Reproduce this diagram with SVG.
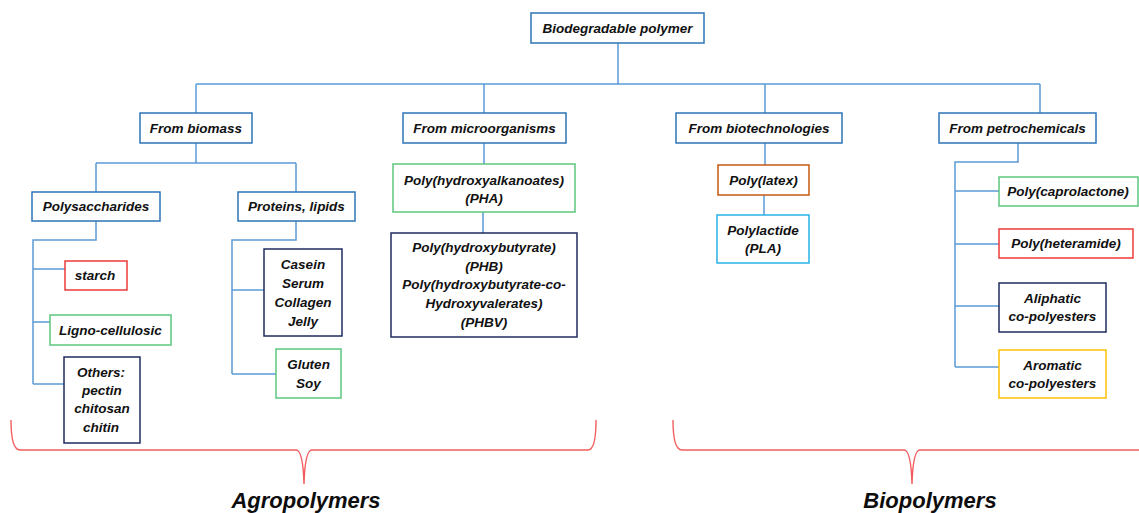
<svg xmlns="http://www.w3.org/2000/svg" width="1139" height="513" viewBox="0 0 1139 513">
  <style>
    .box { fill: #ffffff; stroke-width: 1.5; }
    .blue { stroke: #2E75B6; }
    .green { stroke: #5CC77E; }
    .red { stroke: #EE3B3B; }
    .navy { stroke: #1F2D5F; }
    .orange { stroke: #C55A11; }
    .cyan { stroke: #29B1E6; }
    .yellow { stroke: #FFC000; }
    .lbl { font-family: "Liberation Sans", Arial, sans-serif; font-size: 13.5px; font-weight: bold; font-style: italic; fill: #111111; text-anchor: middle; }
    .big { font-family: "Liberation Sans", Arial, sans-serif; font-size: 22px; font-weight: bold; font-style: italic; fill: #0d0d0d; text-anchor: middle; }
    .conn { fill: none; stroke: #5B9BD5; stroke-width: 1.5; }
    .brace { fill: none; stroke: #F25C5C; stroke-width: 1.4; }
  </style>
  <rect width="1139" height="513" fill="#ffffff"/>

  <g id="connectors">
    <!-- root to categories -->
    <path class="conn" d="M618,43 V84 M196,84 H1040 M196,84 V113 M484,84 V113 M765,84 V113 M1040,84 V113"/>
    <!-- biomass -->
    <path class="conn" d="M196,143 V163 M96,163 H296 M96,163 V192 M296,163 V192"/>
    <!-- polysaccharides -->
    <path class="conn" d="M96,221 V240 H33 V384 M33,269 H65 M33,322 H50 M33,384 H64"/>
    <!-- proteins, lipids -->
    <path class="conn" d="M296,221 V240 H232 V374 M232,290 H264 M232,374 H276"/>
    <!-- microorganisms -->
    <path class="conn" d="M484,143 V164 M483,212 V233"/>
    <!-- biotechnologies -->
    <path class="conn" d="M765,143 V165 M764,195 V215"/>
    <!-- petrochemicals -->
    <path class="conn" d="M1018,143 V162 H955 V367 M955,191 H999 M955,244 H999 M955,306 H999 M955,367 H999"/>
  </g>

  <g id="root">
    <rect class="box blue" x="531" y="13" width="173" height="30"/>
    <text class="lbl" x="617.5" y="32.5">Biodegradable polymer</text>
  </g>

  <g id="from-biomass">
    <rect class="box blue" x="140" y="113" width="112" height="30"/>
    <text class="lbl" x="196" y="132.5">From biomass</text>
  </g>
  <g id="from-microorganisms">
    <rect class="box blue" x="403" y="113" width="163" height="30"/>
    <text class="lbl" x="484.5" y="132.5">From microorganisms</text>
  </g>
  <g id="from-biotechnologies">
    <rect class="box blue" x="676" y="113" width="166" height="30"/>
    <text class="lbl" x="759" y="132.5">From biotechnologies</text>
  </g>
  <g id="from-petrochemicals">
    <rect class="box blue" x="939" y="113" width="157" height="30"/>
    <text class="lbl" x="1017.5" y="132.5">From petrochemicals</text>
  </g>

  <g id="polysaccharides">
    <rect class="box blue" x="32" y="192" width="128" height="29"/>
    <text class="lbl" x="96" y="211">Polysaccharides</text>
  </g>
  <g id="proteins-lipids">
    <rect class="box blue" x="238" y="192" width="117" height="29"/>
    <text class="lbl" x="296.5" y="211">Proteins, lipids</text>
  </g>

  <g id="starch">
    <rect class="box red" x="65" y="261" width="62" height="29"/>
    <text class="lbl" x="95" y="280">starch</text>
  </g>
  <g id="ligno-cellulosic">
    <rect class="box green" x="50" y="315" width="121" height="30"/>
    <text class="lbl" x="110.5" y="334.5">Ligno-cellulosic</text>
  </g>
  <g id="others">
    <rect class="box navy" x="64" y="357" width="76" height="86"/>
    <text class="lbl" x="101" y="376.5">Others:</text>
    <text class="lbl" x="102" y="395">pectin</text>
    <text class="lbl" x="102" y="413">chitosan</text>
    <text class="lbl" x="101" y="431.5">chitin</text>
  </g>

  <g id="casein-serum-collagen-jelly">
    <rect class="box navy" x="264" y="249" width="78" height="87"/>
    <text class="lbl" x="303" y="268.5">Casein</text>
    <text class="lbl" x="303" y="287.5">Serum</text>
    <text class="lbl" x="303" y="306.5">Collagen</text>
    <text class="lbl" x="303" y="325.5">Jelly</text>
  </g>
  <g id="gluten-soy">
    <rect class="box green" x="276" y="349" width="65" height="49"/>
    <text class="lbl" x="308.5" y="368.5">Gluten</text>
    <text class="lbl" x="308.5" y="387.5">Soy</text>
  </g>

  <g id="pha">
    <rect class="box green" x="393" y="164" width="182" height="48"/>
    <text class="lbl" x="484" y="184.5">Poly(hydroxyalkanoates)</text>
    <text class="lbl" x="484" y="202.5">(PHA)</text>
  </g>
  <g id="phb-phbv">
    <rect class="box navy" x="391" y="233" width="186" height="104"/>
    <text class="lbl" x="484" y="251.5">Poly(hydroxybutyrate)</text>
    <text class="lbl" x="484" y="270.5">(PHB)</text>
    <text class="lbl" x="484" y="288.5">Poly(hydroxybutyrate-co-</text>
    <text class="lbl" x="484" y="307.5">Hydroxyvalerates)</text>
    <text class="lbl" x="484" y="326.5">(PHBV)</text>
  </g>

  <g id="poly-latex">
    <rect class="box orange" x="718" y="165" width="91" height="30"/>
    <text class="lbl" x="763.5" y="184.5">Poly(latex)</text>
  </g>
  <g id="pla">
    <rect class="box cyan" x="717" y="215" width="92" height="48"/>
    <text class="lbl" x="763" y="234.5">Polylactide</text>
    <text class="lbl" x="763" y="253">(PLA)</text>
  </g>

  <g id="poly-caprolactone">
    <rect class="box green" x="999" y="177" width="139" height="29"/>
    <text class="lbl" x="1068" y="196">Poly(caprolactone)</text>
  </g>
  <g id="poly-heteramide">
    <rect class="box red" x="999" y="229" width="134" height="29"/>
    <text class="lbl" x="1066" y="248">Poly(heteramide)</text>
  </g>
  <g id="aliphatic-co-polyesters">
    <rect class="box navy" x="999" y="283" width="107" height="49"/>
    <text class="lbl" x="1052.5" y="302.5">Aliphatic</text>
    <text class="lbl" x="1052.5" y="321">co-polyesters</text>
  </g>
  <g id="aromatic-co-polyesters">
    <rect class="box yellow" x="999" y="350" width="107" height="48"/>
    <text class="lbl" x="1052.5" y="369.5">Aromatic</text>
    <text class="lbl" x="1052.5" y="387.5">co-polyesters</text>
  </g>

  <g id="agropolymers">
    <path class="brace" d="M11,420 Q11,450 20,450 H296 Q303,450 304,484 Q305,450 312,450 H588 Q596,450 596,420"/>
    <text class="big" x="306" y="508">Agropolymers</text>
  </g>
  <g id="biopolymers">
    <path class="brace" d="M673,420 Q673,450 682,450 H904 Q911,450 912,484 Q913,450 920,450 H1142"/>
    <text class="big" x="930" y="508">Biopolymers</text>
  </g>
</svg>
